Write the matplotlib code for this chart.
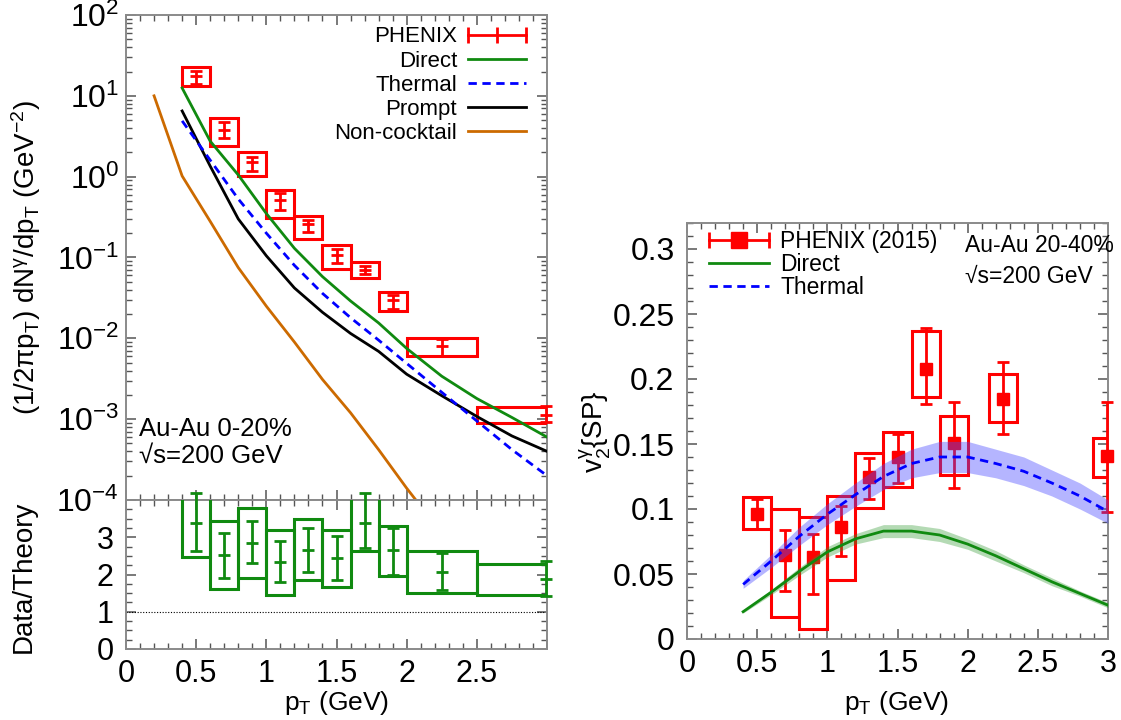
import numpy as np
import matplotlib
matplotlib.use('Agg')
import matplotlib.pyplot as plt
from matplotlib import font_manager as fm
from matplotlib.patches import Rectangle
from matplotlib.lines import Line2D
from matplotlib.legend_handler import HandlerLine2D, HandlerTuple
from matplotlib.ticker import (FixedLocator, FixedFormatter, MultipleLocator,
                               NullFormatter, LogFormatterMathtext)

# ---------------- data: left, spectrum ----------------
spec_x = [0.5, 0.7, 0.9, 1.1, 1.3, 1.5, 1.7, 1.9, 2.25, 2.99]
spec_xlo = [0.4, 0.6, 0.8, 1.0, 1.2, 1.4, 1.6, 1.8, 2.0, 2.5]
spec_xhi = [0.6, 0.8, 1.0, 1.2, 1.4, 1.6, 1.8, 2.0, 2.5, 3.0]
spec_y = [17.7, 3.8, 1.53, 0.52, 0.257, 0.106, 0.071, 0.0295, 0.0080, 0.00114]
spec_stat_lo = [14.1, 3.0, 1.18, 0.39, 0.204, 0.085, 0.062, 0.023, 0.006, 0.00091]
spec_stat_hi = [20.4, 4.8, 1.77, 0.62, 0.295, 0.129, 0.078, 0.034, 0.0098, 0.00144]
spec_sys_lo = [13.3, 2.4, 1.02, 0.31, 0.17, 0.073, 0.056, 0.022, 0.006, 0.00089]
spec_sys_hi = [23.0, 5.35, 2.04, 0.69, 0.33, 0.141, 0.089, 0.037, 0.0102, 0.0014]

theo_x = [0.4, 0.6, 0.8, 1.0, 1.2, 1.4, 1.6, 1.8, 2.0, 2.25, 2.5, 2.75, 3.0]
direct_y = [12.5, 2.75, 1.05, 0.35, 0.13, 0.058, 0.029, 0.0155, 0.0075, 0.0034, 0.0018, 0.00105, 0.0006]
thermal_y = [4.9, 1.6, 0.53, 0.2, 0.08, 0.036, 0.018, 0.0095, 0.0049, 0.00215, 0.00095, 0.00042, 0.0002]
prompt_y = [6.5, 1.35, 0.3, 0.105, 0.042, 0.021, 0.0115, 0.0069, 0.0036, 0.00195, 0.00108, 0.00062, 0.0004]
noncock_x = [0.2, 0.4, 0.6, 0.8, 1.0, 1.2, 1.4, 1.6, 1.8, 2.0, 2.2]
noncock_y = [10.0, 1.02, 0.28, 0.075, 0.025, 0.009, 0.0031, 0.0012, 0.00042, 0.00014, 0.00005]

# ---------------- data: left, ratio ----------------
ratio_y = [3.38, 2.52, 2.85, 2.34, 2.66, 2.43, 3.39, 2.66, 2.08, 1.88]
ratio_stat_lo = [2.63, 1.91, 2.30, 1.79, 2.08, 1.85, 2.72, 2.00, 1.58, 1.42]
ratio_stat_hi = [4.20, 3.12, 3.44, 2.90, 3.24, 3.03, 4.20, 3.26, 2.59, 2.36]
ratio_sys_lo = [2.47, 1.61, 1.91, 1.45, 1.85, 1.67, 2.63, 1.96, 1.51, 1.45]
ratio_sys_hi = [4.30, 3.44, 3.78, 3.19, 3.49, 3.19, 4.30, 3.31, 2.63, 2.28]

# ---------------- data: right, v2 ----------------
v2_x = [0.5, 0.7, 0.9, 1.1, 1.3, 1.5, 1.7, 1.9, 2.25, 2.99]
v2_y = [0.096, 0.065, 0.063, 0.086, 0.125, 0.140, 0.2075, 0.1505, 0.1846, 0.141]
v2_stat_lo = [0.085, 0.037, 0.035, 0.064, 0.108, 0.120, 0.181, 0.1164, 0.1575, 0.0975]
v2_stat_hi = [0.108, 0.084, 0.081, 0.102, 0.1395, 0.158, 0.2395, 0.1826, 0.2128, 0.1826]
v2_sys_lo = [0.085, 0.017, 0.0074, 0.0454, 0.1005, 0.1172, 0.186, 0.126, 0.1672, 0.1244]
v2_sys_hi = [0.1095, 0.100, 0.094, 0.110, 0.1428, 0.159, 0.2372, 0.1718, 0.2038, 0.1544]

v2th_x = [0.4, 0.6, 0.8, 1.0, 1.2, 1.4, 1.6, 1.8, 2.0, 2.2, 2.4, 2.6, 2.8, 3.0]
v2_thermal = [0.042, 0.060, 0.079, 0.096, 0.111, 0.125, 0.135, 0.140, 0.140, 0.135, 0.129, 0.120, 0.110, 0.098]
v2_thermal_lo = [0.039, 0.055, 0.072, 0.088, 0.102, 0.115, 0.124, 0.128, 0.128, 0.124, 0.118, 0.110, 0.100, 0.089]
v2_thermal_hi = [0.045, 0.065, 0.086, 0.104, 0.120, 0.135, 0.146, 0.152, 0.152, 0.146, 0.140, 0.130, 0.120, 0.107]
v2_direct = [0.021, 0.036, 0.052, 0.067, 0.077, 0.083, 0.083, 0.080, 0.073, 0.064, 0.054, 0.044, 0.035, 0.026]
v2_direct_lo = [0.020, 0.034, 0.049, 0.063, 0.073, 0.078, 0.078, 0.075, 0.069, 0.060, 0.051, 0.041, 0.033, 0.024]
v2_direct_hi = [0.022, 0.038, 0.055, 0.071, 0.081, 0.088, 0.088, 0.085, 0.077, 0.068, 0.057, 0.047, 0.037, 0.028]

spec_yticks = [1e-4, 1e-3, 1e-2, 1e-1, 1e0, 1e1, 1e2]
spec_decades = [1e-4, 1e-3, 1e-2, 1e-1, 1e0, 1e1]
left_xticks = [0, 0.5, 1, 1.5, 2, 2.5, 3]
left_xticklabels = ['0', '0.5', '1', '1.5', '2', '2.5', '']
ratio_yticks = [0, 1, 2, 3, 4]
ratio_yticklabels = ['0', '1', '2', '3', '']
right_xticks = [0, 0.5, 1, 1.5, 2, 2.5, 3]
right_xticklabels = ['0', '0.5', '1', '1.5', '2', '2.5', '3']
right_yticks = [0, 0.05, 0.1, 0.15, 0.2, 0.25, 0.3]
right_yticklabels = ['0', '0.05', '0.1', '0.15', '0.2', '0.25', '0.3']

# ---------------- style ----------------
names = {f.name for f in fm.fontManager.ttflist}
REG = 'Liberation Sans' if 'Liberation Sans' in names else 'DejaVu Sans'

plt.rcParams['font.family'] = [REG, 'DejaVu Sans']
plt.rcParams['mathtext.fontset'] = 'custom'
plt.rcParams['mathtext.rm'] = REG
plt.rcParams['mathtext.it'] = REG + ':italic'
plt.rcParams['mathtext.sf'] = REG
plt.rcParams['mathtext.default'] = 'regular'

RED = '#ff0000'
GREEN = '#108a10'
BLUE = '#0000ff'
ORANGE = '#cc6a00'
SPINE = '#8a8a8a'
TICKFS = 23
XTICKFS = 22

W, H = 1121, 720
fig = plt.figure(figsize=(W / 100, H / 100), dpi=100)


def rect(l, t, r, b):
    return [l / W, 1 - b / H, (r - l) / W, (b - t) / H]


ax1 = fig.add_axes(rect(126, 15, 547, 500))
ax2 = fig.add_axes(rect(126, 500, 547, 649))
ax3 = fig.add_axes(rect(687, 223, 1108, 639))

for ax in (ax1, ax2, ax3):
    for s in ax.spines.values():
        s.set_color(SPINE)
        s.set_linewidth(1.4)
    ax.tick_params(which='both', direction='in', top=True, right=True,
                   color='#555555', labelsize=TICKFS)
    ax.tick_params(which='major', length=7, width=1.1)
    ax.tick_params(which='minor', length=4, width=1.0)

# ---------------- top-left: spectrum ----------------
ax1.set_yscale('log')
ax1.set_xlim(0, 3)
ax1.set_ylim(1e-4, 1e2)
for xl, xh, bl, bh in zip(spec_xlo, spec_xhi, spec_sys_lo, spec_sys_hi):
    ax1.add_patch(Rectangle((xl, bl), xh - xl, bh - bl, fill=False,
                            edgecolor=RED, lw=2.2, zorder=3))
sy = np.array(spec_y)
ax1.errorbar(spec_x, spec_y,
             yerr=[sy - np.array(spec_stat_lo), np.array(spec_stat_hi) - sy],
             fmt='_', color=RED, ms=9, mew=2, elinewidth=2, capsize=4,
             capthick=2, clip_on=False, zorder=4)
l_dir, = ax1.plot(theo_x, direct_y, color=GREEN, lw=2.0, zorder=5)
l_th, = ax1.plot(theo_x, thermal_y, color=BLUE, lw=2.0,
                 ls=(0, (3.0, 2.0)), zorder=6)
l_pr, = ax1.plot(theo_x, prompt_y, color='black', lw=2.0, zorder=5)
l_nc, = ax1.plot(noncock_x, noncock_y, color=ORANGE, lw=2.0, zorder=5)

ax1.yaxis.set_major_locator(FixedLocator(spec_yticks))
ax1.yaxis.set_major_formatter(LogFormatterMathtext())
ax1.yaxis.set_minor_locator(FixedLocator([m * d for d in spec_decades
                                          for m in range(2, 10)]))
ax1.yaxis.set_minor_formatter(NullFormatter())
ax1.xaxis.set_major_locator(FixedLocator(left_xticks))
ax1.xaxis.set_minor_locator(MultipleLocator(0.1))
ax1.tick_params(labelbottom=False, pad=5)

# legend sample for the data: bar with end caps and a centre tick
ph_sample = Line2D([], [], color=RED, lw=2, marker='|', ms=11, mew=2)
LEGFS1 = 16
ax1.legend([ph_sample, l_dir, l_th, l_pr, l_nc],
           ['PHENIX', 'Direct', 'Thermal', 'Prompt', 'Non-cocktail'],
           loc='upper right', bbox_to_anchor=(0.982, 1.004),
           markerfirst=False, frameon=False, fontsize=LEGFS1,
           handlelength=2.6, handletextpad=0.5, labelspacing=0.14,
           borderaxespad=0.2,
           handler_map={ph_sample: HandlerLine2D(numpoints=3, marker_pad=0)})

ax1.text(0.031, 0.132, 'Au-Au 0-20%', transform=ax1.transAxes, fontsize=18.5,
         va='baseline', ha='left')
ax1.text(0.031, 0.076, '\u221as=200 GeV', transform=ax1.transAxes,
         fontsize=18.5, va='baseline', ha='left')

# ---------------- bottom-left: ratio ----------------
ax2.set_xlim(0, 3)
ax2.set_ylim(0, 4)
for xl, xh, bl, bh in zip(spec_xlo, spec_xhi, ratio_sys_lo, ratio_sys_hi):
    ax2.add_patch(Rectangle((xl, bl), xh - xl, bh - bl, fill=False,
                            edgecolor=GREEN, lw=2.2, zorder=3))
ry = np.array(ratio_y)
ax2.errorbar(spec_x, ratio_y,
             yerr=[ry - np.array(ratio_stat_lo), np.array(ratio_stat_hi) - ry],
             fmt='_', color=GREEN, ms=9, mew=2, elinewidth=2, capsize=4,
             capthick=2, clip_on=False, zorder=4)
ax2.axhline(1, color='black', lw=0.8, ls=(0, (1, 1.5)), zorder=2)
ax2.xaxis.set_major_locator(FixedLocator(left_xticks))
ax2.xaxis.set_major_formatter(FixedFormatter(left_xticklabels))
ax2.xaxis.set_minor_locator(MultipleLocator(0.1))
ax2.yaxis.set_major_locator(FixedLocator(ratio_yticks))
ax2.yaxis.set_major_formatter(FixedFormatter(ratio_yticklabels))
ax2.yaxis.set_minor_locator(MultipleLocator(0.25))
ax2.tick_params(axis='y', pad=9, labelsize=22)
ax2.tick_params(axis='x', pad=7, labelsize=XTICKFS)

# ---------------- right: v2 ----------------
ax3.set_xlim(0, 3)
ax3.set_ylim(0, 0.32)
vy = np.array(v2_y)
for x, bl, bh in zip(v2_x, v2_sys_lo, v2_sys_hi):
    ax3.add_patch(Rectangle((x - 0.1, bl), 0.2, bh - bl, fill=False,
                            edgecolor=RED, lw=2.2, zorder=3))
ax3.errorbar(v2_x, v2_y,
             yerr=[vy - np.array(v2_stat_lo), np.array(v2_stat_hi) - vy],
             fmt='s', color=RED, ms=9, elinewidth=2, capsize=4.5,
             capthick=2, clip_on=False, zorder=4)
ax3.fill_between(v2th_x, v2_thermal_lo, v2_thermal_hi, color='#4848ff',
                 alpha=0.4, lw=0, zorder=5)
ax3.fill_between(v2th_x, v2_direct_lo, v2_direct_hi, color='#2a962a',
                 alpha=0.35, lw=0, zorder=5)
r_dir, = ax3.plot(v2th_x, v2_direct, color=GREEN, lw=2.0, zorder=6)
r_th, = ax3.plot(v2th_x, v2_thermal, color=BLUE, lw=2.0,
                 ls=(0, (3.0, 2.0)), zorder=6)
ph2_caps = Line2D([], [], color=RED, lw=2, marker='|', ms=11, mew=2)
ph2_sq = Line2D([], [], color=RED, ls='none', marker='s', ms=11)
LEGFS2 = 16.5
ax3.legend([(ph2_caps, ph2_sq), r_dir, r_th],
           ['PHENIX (2015)', 'Direct', 'Thermal'],
           loc='upper left', bbox_to_anchor=(0.02, 1.016), frameon=False,
           fontsize=LEGFS2, handlelength=2.6, handletextpad=0.5,
           labelspacing=0.0, borderaxespad=0.2,
           handler_map={tuple: HandlerTuple(ndivide=1, pad=0),
                        ph2_caps: HandlerLine2D(numpoints=2, marker_pad=0),
                        ph2_sq: HandlerLine2D(numpoints=1)})
ax3.text(0.66, 0.930, 'Au-Au 20-40%', transform=ax3.transAxes, fontsize=16.5,
         va='baseline', ha='left')
ax3.text(0.66, 0.856, '\u221as=200 GeV', transform=ax3.transAxes,
         fontsize=16.5, va='baseline', ha='left')
ax3.xaxis.set_major_locator(FixedLocator(right_xticks))
ax3.xaxis.set_major_formatter(FixedFormatter(right_xticklabels))
ax3.xaxis.set_minor_locator(MultipleLocator(0.1))
ax3.yaxis.set_major_locator(FixedLocator(right_yticks))
ax3.yaxis.set_major_formatter(FixedFormatter(right_yticklabels))
ax3.yaxis.set_minor_locator(MultipleLocator(0.01))
ax3.tick_params(axis='y', pad=9)
ax3.tick_params(axis='x', pad=7, labelsize=XTICKFS)

# ---------------- axis labels ----------------
fig.text(26 / W, 1 - 257 / H,
         r'(1/2$\pi$p$_\mathrm{T}$) dN$^\gamma$/dp$_\mathrm{T}$ (GeV$^{-2}$)',
         rotation=90, ha='center', va='center', fontsize=20)
fig.text(24 / W, 1 - 577 / H, 'Data/Theory', rotation=90, ha='center',
         va='center', fontsize=20)
fig.text(337 / W, 1 - 703 / H, r'p$_\mathrm{T}$ (GeV)', ha='center',
         va='center', fontsize=19)
fig.text(897 / W, 1 - 703 / H, r'p$_\mathrm{T}$ (GeV)', ha='center',
         va='center', fontsize=19)
fig.text(595 / W, 1 - 432 / H, r'v$_2^\gamma${SP}', rotation=90, ha='center',
         va='center', fontsize=20)

fig.savefig('out.png', dpi=100)
